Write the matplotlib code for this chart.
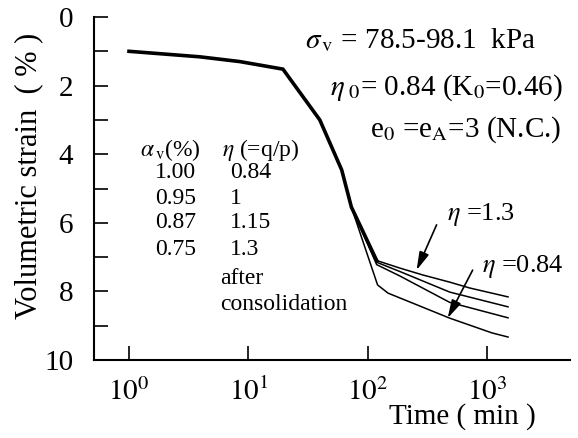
import numpy as np
import matplotlib.pyplot as plt

plt.rcParams['font.family'] = ['Liberation Serif', 'DejaVu Serif']
plt.rcParams['mathtext.fontset'] = 'stix'

W, H = 578, 438

# shared part of the four curves (thick line)
main_t = [1, 3.9, 8.5, 19.5, 39.7, 60.6, 73, 119]
main_e = [1.0, 1.16, 1.30, 1.52, 3.0, 4.46, 5.54, 7.10]

# branches after consolidation, eta = 1.3, 1.15, 1.0, 0.84
t_13 = [73, 119, 186, 289, 487, 715, 1500]
e_13 = [5.54, 7.10, 7.32, 7.52, 7.73, 7.90, 8.16]
t_115 = [73, 119, 186, 487, 1500]
e_115 = [5.54, 7.15, 7.42, 8.02, 8.45]
t_100 = [73, 119, 186, 487, 1500]
e_100 = [5.54, 7.22, 7.55, 8.32, 8.77]
t_084 = [73, 121, 148, 487, 1100, 1500]
e_084 = [5.54, 7.81, 8.05, 8.78, 9.21, 9.33]

alpha_v = ['1.00', '0.95', '0.87', '0.75']
eta_q = ['0.84', '1', '1.15', '1.3']

xticks = [1, 10, 100, 1000]
xtick_labels = [r'$10^{0}$', r'$10^{1}$', r'$10^{2}$', r'$10^{3}$']
yticks = [0, 2, 4, 6, 8, 10]


def px(x, y):
    # pixel position in the picture -> figure fraction
    return x / W, 1 - y / H


fig = plt.figure(figsize=(W / 100, H / 100), dpi=100)
ax = fig.add_axes([94 / W, 78 / H, 476 / W, 343 / H])

ax.plot(main_t, main_e, color='black', lw=2.6, solid_joinstyle='miter')
for t, e in [(t_13, e_13), (t_115, e_115), (t_100, e_100), (t_084, e_084)]:
    ax.plot(t, e, color='black', lw=1.1)

ax.set_xscale('log')
ax.set_xlim(0.509, 4960)
ax.set_ylim(10, 0)
ax.set_xticks(xticks)
ax.set_xticklabels(xtick_labels, fontsize=21)
ax.xaxis.set_minor_locator(plt.NullLocator())
ax.set_yticks(yticks)
ax.set_yticks([1, 3, 5, 7, 9], minor=True)
ax.set_yticklabels([str(v) for v in yticks], fontsize=21)
ax.tick_params(axis='both', which='both', direction='in', length=10, width=1.2)
ax.tick_params(axis='x', pad=13)
ax.tick_params(axis='y', pad=15)
for s in ['top', 'right']:
    ax.spines[s].set_visible(False)
for s in ['left', 'bottom']:
    ax.spines[s].set_linewidth(1.5)

fig.text(*px(29, 176), 'Volumetric strain  ( % )', rotation=90,
         fontsize=22, ha='center', va='center')
fig.text(*px(462, 417), 'Time ( min )', fontsize=21, ha='center', va='center')

fig.text(*px(305, 40), r'$\sigma_{\,\rm v}$ = 78.5-98.1  kPa', fontsize=21, va='center')
fig.text(*px(330, 88), r'$\eta_{\ 0}$= 0.84 (K$_0$=0.46)', fontsize=21, va='center')
fig.text(*px(370, 130), r'e$_0$ =e$_{\rm A}$=3 (N.C.)', fontsize=21, va='center')

fig.text(*px(140, 150), r'$\alpha_{\,\rm v}$(%)', fontsize=17, va='center')
fig.text(*px(222, 150), r'$\eta$ (=q/p)', fontsize=17, va='center')
row_y = [173, 198, 223, 249]
for a, q, y in zip(alpha_v, eta_q, row_y):
    fig.text(*px(155, y), a, fontsize=17, va='center')
    fig.text(*px(230, y), q, fontsize=17, va='center')
fig.text(*px(220, 278), 'after', fontsize=17, va='center')
fig.text(*px(220, 304), 'consolidation', fontsize=17, va='center')

fig.text(*px(447, 214), r'$\eta$ =1.3', fontsize=19, va='center')
fig.text(*px(482, 267), r'$\eta$ =0.84', fontsize=19, va='center')

arrow = dict(arrowstyle='-|>,head_length=1.1,head_width=0.3', color='black',
             lw=1.2, shrinkA=0, shrinkB=0)
ax.annotate('', xy=(257, 7.38), xytext=(378, 6.06), arrowprops=arrow)
ax.annotate('', xy=(468, 8.78), xytext=(758, 7.38), arrowprops=arrow)

fig.savefig('out.png', dpi=100)
